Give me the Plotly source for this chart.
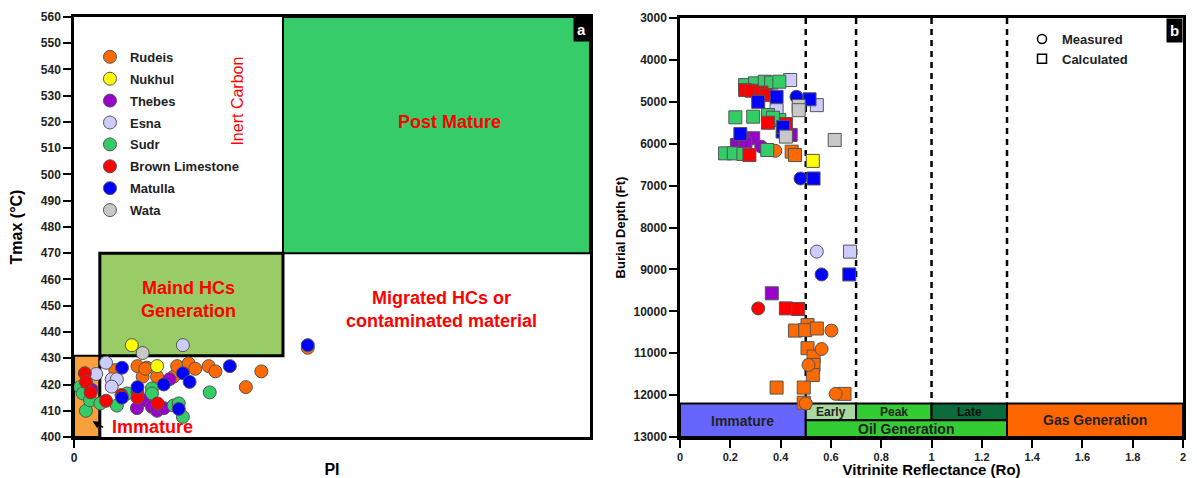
import plotly.graph_objects as go

# ---------------- Panel (a): PI vs Tmax ----------------
FORMATIONS = ["Rudeis", "Nukhul", "Thebes", "Esna", "Sudr", "Brown Limestone", "Matulla", "Wata"]

rudeis_pi = [0.080, 0.123, 0.141, 0.133, 0.161, 0.193, 0.200, 0.222, 0.235, 0.261, 0.274, 0.333, 0.363, 0.453, 0.138]
rudeis_tmax = [425.5, 427, 426.4, 423, 423, 423, 427, 428, 426, 427, 425, 419, 425, 434, 426]
nukhul_pi = [0.112, 0.161]
nukhul_tmax = [435, 427]
thebes_pi = [0.034, 0.122, 0.135, 0.151, 0.161, 0.174, 0.185]
thebes_tmax = [418, 411, 414, 411.5, 410, 411, 422]
esna_pi = [0.211, 0.062, 0.043, 0.073, 0.083, 0.073]
esna_tmax = [435, 428.3, 424, 422, 422, 419.2]
sudr_pi = [0.012, 0.017, 0.023, 0.031, 0.051, 0.083, 0.103, 0.151, 0.151, 0.193, 0.203, 0.211, 0.263]
sudr_tmax = [419, 416.6, 410, 414, 412.8, 412, 416.6, 418.5, 416.6, 412, 412.8, 407.7, 417]
brown_pi = [0.021, 0.023, 0.032, 0.062, 0.092, 0.123, 0.123, 0.162]
brown_tmax = [424.3, 421, 417, 413.8, 416, 417, 415, 412.8]
matulla_pi = [0.093, 0.302, 0.211, 0.224, 0.174, 0.123, 0.093, 0.203, 0.453]
matulla_tmax = [426.4, 427, 424.3, 421, 420, 419, 415, 410.7, 435]
wata_pi = [0.133]
wata_tmax = [432]

# ---------------- Panel (b): Ro vs depth ----------------
# Measured (circles)
rudeis_ro_m = [0.379, 0.602, 0.563, 0.511, 0.619, 0.500]
rudeis_d_m = [6170, 10460, 10900, 11280, 11970, 12200]
thebes_ro_m = [0.323]
thebes_d_m = [6070]
esna_ro_m = [0.544]
esna_d_m = [8575]
brown_ro_m = [0.311]
brown_d_m = [9930]
matulla_ro_m = [0.463, 0.479, 0.563]
matulla_d_m = [4880, 6830, 9120]

# Calculated (squares)
rudeis_ro_c = [0.444, 0.457, 0.507, 0.457, 0.498, 0.544, 0.507, 0.531, 0.531, 0.528, 0.384, 0.492, 0.654, 0.492]
rudeis_d_c = [6190, 6270, 10330, 10460, 10450, 10410, 10880, 11080, 11280, 11520, 11820, 11820, 11970, 12180]
nukhul_ro_c = [0.528]
nukhul_d_c = [6410]
thebes_ro_c = [0.440, 0.291, 0.252, 0.226, 0.260, 0.365]
thebes_d_c = [5790, 5870, 5910, 6030, 6000, 9570]
esna_ro_c = [0.438, 0.544, 0.384, 0.676]
esna_d_c = [4480, 5080, 5200, 8575]
sudr_ro_c = [0.259, 0.298, 0.337, 0.362, 0.395, 0.220, 0.291, 0.350, 0.395, 0.370, 0.179, 0.214, 0.252, 0.347]
sudr_d_c = [4600, 4560, 4520, 4540, 4520, 5370, 5355, 5315, 5435, 5380, 6230, 6230, 6245, 6150]
brown_ro_c = [0.259, 0.285, 0.324, 0.343, 0.350, 0.421, 0.276, 0.421, 0.470]
brown_d_c = [4720, 4735, 4780, 4840, 5500, 5530, 6270, 9930, 9945]
matulla_ro_c = [0.311, 0.384, 0.515, 0.408, 0.410, 0.240, 0.531, 0.673]
matulla_d_c = [5000, 4880, 4940, 5710, 5600, 5770, 6830, 9120]
wata_ro_c = [0.472, 0.472, 0.421, 0.615]
wata_d_c = [5100, 5200, 5830, 5910]

# Tick labels
ro_ticks = [0, 0.2, 0.4, 0.6, 0.8, 1, 1.2, 1.4, 1.6, 1.8, 2]
ro_ticklabels = ["0", "0.2", "0.4", "0.6", "0.8", "1", "1.2", "1.4", "1.6", "1.8", "2"]
depth_ticks = [3000, 4000, 5000, 6000, 7000, 8000, 9000, 10000, 11000, 12000, 13000]

COLORS = {
    "Rudeis": "#FF6A00", "Nukhul": "#FFFF00", "Thebes": "#9900CC", "Esna": "#CCCCFF",
    "Sudr": "#33CC66", "Brown Limestone": "#FF0000", "Matulla": "#0000FF", "Wata": "#C8C8C8",
}

LEFT = {
    "Rudeis": (rudeis_pi, rudeis_tmax), "Nukhul": (nukhul_pi, nukhul_tmax),
    "Thebes": (thebes_pi, thebes_tmax), "Esna": (esna_pi, esna_tmax),
    "Sudr": (sudr_pi, sudr_tmax), "Brown Limestone": (brown_pi, brown_tmax),
    "Matulla": (matulla_pi, matulla_tmax), "Wata": (wata_pi, wata_tmax),
}
MEAS = {
    "Rudeis": (rudeis_ro_m, rudeis_d_m), "Thebes": (thebes_ro_m, thebes_d_m),
    "Esna": (esna_ro_m, esna_d_m), "Brown Limestone": (brown_ro_m, brown_d_m),
    "Matulla": (matulla_ro_m, matulla_d_m),
}
CALC = {
    "Rudeis": (rudeis_ro_c, rudeis_d_c), "Nukhul": (nukhul_ro_c, nukhul_d_c),
    "Thebes": (thebes_ro_c, thebes_d_c), "Esna": (esna_ro_c, esna_d_c),
    "Sudr": (sudr_ro_c, sudr_d_c), "Brown Limestone": (brown_ro_c, brown_d_c),
    "Matulla": (matulla_ro_c, matulla_d_c), "Wata": (wata_ro_c, wata_d_c),
}

FONT = "Arial, Liberation Sans, sans-serif"
fig = go.Figure()

for name in FORMATIONS:
    x, y = LEFT[name]
    fig.add_trace(go.Scatter(
        x=x, y=y, mode="markers", name=name, legendgroup=name, legend="legend",
        marker=dict(symbol="circle", size=13, color=COLORS[name], line=dict(color="#555555", width=1)),
        cliponaxis=False, xaxis="x", yaxis="y"))

for name in FORMATIONS:
    if name in CALC:
        x, y = CALC[name]
        fig.add_trace(go.Scatter(
            x=x, y=y, mode="markers", name=name, legendgroup=name, showlegend=False,
            marker=dict(symbol="square", size=13, color=COLORS[name], line=dict(color="#555555", width=1)),
            cliponaxis=False, xaxis="x2", yaxis="y2"))
    if name in MEAS:
        x, y = MEAS[name]
        fig.add_trace(go.Scatter(
            x=x, y=y, mode="markers", name=name, legendgroup=name, showlegend=False,
            marker=dict(symbol="circle", size=13, color=COLORS[name], line=dict(color="#555555", width=1)),
            cliponaxis=False, xaxis="x2", yaxis="y2"))

# legend for panel b
fig.add_trace(go.Scatter(x=[None], y=[None], mode="markers", name="Measured", legend="legend2",
                         marker=dict(symbol="circle-open", size=9, color="black", line=dict(width=1.5)),
                         xaxis="x2", yaxis="y2"))
fig.add_trace(go.Scatter(x=[None], y=[None], mode="markers", name="Calculated", legend="legend2",
                         marker=dict(symbol="square-open", size=9, color="black", line=dict(width=1.5)),
                         xaxis="x2", yaxis="y2"))

shapes = []
# Panel a regions
shapes.append(dict(type="rect", xref="x", yref="y", x0=0.405, x1=1, y0=470, y1=560,
                   fillcolor="#36CC6A", line=dict(color="black", width=2), layer="below"))
shapes.append(dict(type="rect", xref="x", yref="y", x0=0.05, x1=0.405, y0=431, y1=470,
                   fillcolor="#99CC66", line=dict(color="black", width=3), layer="below"))
shapes.append(dict(type="rect", xref="x", yref="y", x0=0, x1=0.05, y0=400, y1=431,
                   fillcolor="#F7A03C", line=dict(color="black", width=2), layer="below"))
shapes.append(dict(type="line", xref="x", yref="y", x0=0.05, x1=0.05, y0=400, y1=431,
                   line=dict(color="black", width=3), layer="below"))

# Panel b bands
bands = [
    (0.0, 0.5, 12200, 13000, "#6666FF"),
    (0.5, 0.7, 12200, 12600, "#A6D8A0"),
    (0.7, 1.0, 12200, 12600, "#33CC33"),
    (1.0, 1.3, 12200, 12600, "#0B6B3A"),
    (0.5, 1.3, 12600, 13000, "#33CC33"),
    (1.3, 2.0, 12200, 13000, "#FF6600"),
]
for x0, x1, y0, y1, c in bands:
    shapes.append(dict(type="rect", xref="x2", yref="y2", x0=x0, x1=x1, y0=y0, y1=y1,
                       fillcolor=c, line=dict(color="black", width=2), layer="below"))
for xv in [0.5, 0.7, 1.0, 1.3]:
    shapes.append(dict(type="line", xref="x2", yref="y2", x0=xv, x1=xv, y0=3000, y1=12200,
                       line=dict(color="black", width=2.5, dash="6px,5px"), layer="below"))

red = "#FF0000"
ann = [
    dict(xref="x", yref="y", x=0.317, y=528, text="Inert Carbon", textangle=-90, showarrow=False,
         font=dict(family=FONT, size=16, color=red)),
    dict(xref="x", yref="y", x=0.728, y=520, text="<b>Post Mature</b>", showarrow=False,
         font=dict(family=FONT, size=18, color=red)),
    dict(xref="x", yref="y", x=0.222, y=452.5, text="<b>Maind HCs<br>Generation</b>", showarrow=False,
         font=dict(family=FONT, size=18, color=red)),
    dict(xref="x", yref="y", x=0.712, y=448.5, text="<b>Migrated HCs or<br>contaminated material</b>",
         showarrow=False, font=dict(family=FONT, size=18, color=red)),
    dict(xref="x", yref="y", x=0.152, y=404, text="<b>Immature</b>", showarrow=False,
         font=dict(family=FONT, size=18, color=red)),
    dict(xref="x", yref="y", x=0.036, y=406, ax=12, ay=7, text="", showarrow=True,
         arrowhead=2, arrowsize=1, arrowwidth=1.5, arrowcolor="black"),
    dict(xref="paper", yref="paper", x=0.4928, y=0.9809, xanchor="right", yanchor="top",
         text="<b>a</b>", showarrow=False, bgcolor="black", borderpad=3,
         font=dict(family=FONT, size=15, color="white")),
    dict(xref="paper", yref="paper", x=0.995, y=0.9787, xanchor="right", yanchor="top",
         text="<b>b</b>", showarrow=False, bgcolor="black", borderpad=3,
         font=dict(family=FONT, size=15, color="white")),
    # band labels
    dict(xref="x2", yref="y2", x=0.25, y=12620, text="<b>Immature</b>", showarrow=False,
         font=dict(family=FONT, size=14, color="#222222")),
    dict(xref="x2", yref="y2", x=0.6, y=12410, text="<b>Early</b>", showarrow=False,
         font=dict(family=FONT, size=12, color="#222222")),
    dict(xref="x2", yref="y2", x=0.85, y=12410, text="<b>Peak</b>", showarrow=False,
         font=dict(family=FONT, size=12, color="#222222")),
    dict(xref="x2", yref="y2", x=1.15, y=12410, text="<b>Late</b>", showarrow=False,
         font=dict(family=FONT, size=12, color="#111111")),
    dict(xref="x2", yref="y2", x=0.9, y=12810, text="<b>Oil Generation</b>", showarrow=False,
         font=dict(family=FONT, size=14, color="#222222")),
    dict(xref="x2", yref="y2", x=1.65, y=12600, text="<b>Gas Generation</b>", showarrow=False,
         font=dict(family=FONT, size=14, color="#222222")),
]

tickfont = dict(family=FONT, size=12, color="#222222", weight="bold")
axcommon = dict(showline=True, linecolor="black", linewidth=2.5, mirror=True, ticks="outside",
                ticklen=8, tickwidth=2, tickcolor="black", showgrid=False, zeroline=False,
                automargin=False)

# The page adds an 8px body margin, so the figure is sized to the visible area
fig.update_layout(
    width=1181, height=470, margin=dict(l=0, r=0, t=0, b=0),
    paper_bgcolor="white", plot_bgcolor="white",
    font=dict(family=FONT),
    xaxis=dict(domain=[0.0559, 0.4928], range=[0, 1], tickvals=[0], ticktext=["0"], anchor="y",
               tickfont=tickfont,
               title=dict(text="PI", font=dict(family=FONT, size=16, color="black", weight="bold"), standoff=7),
               **axcommon),
    yaxis=dict(domain=[0.0872, 0.9809], range=[400, 560], dtick=10, anchor="x", tickfont=tickfont,
               title=dict(text="Tmax (°C)", font=dict(family=FONT, size=16, color="black", weight="bold"),
                          standoff=16), **axcommon),
    xaxis2=dict(domain=[0.5690, 0.995], range=[0, 2], tickvals=ro_ticks, ticktext=ro_ticklabels, anchor="y2",
                tickfont=dict(family=FONT, size=11, color="#222222", weight="bold"),
                title=dict(text="Vitrinite Reflectance (Ro)",
                           font=dict(family=FONT, size=15, color="black", weight="bold"), standoff=3),
                **axcommon),
    yaxis2=dict(domain=[0.0872, 0.9787], range=[13000, 3000], tickvals=depth_ticks,
                ticktext=[str(v) for v in depth_ticks], anchor="x2", tickfont=tickfont,
                title=dict(text="Burial Depth (Ft)", font=dict(family=FONT, size=13, color="black", weight="bold"),
                           standoff=5), **axcommon),
    legend=dict(x=0.0694, y=0.928, xanchor="left", yanchor="top", bgcolor="rgba(0,0,0,0)",
                font=dict(family=FONT, size=13, color="#222222", weight="bold"),
                tracegroupgap=2, itemclick=False, itemdoubleclick=False),
    legend2=dict(x=0.8586, y=0.966, xanchor="left", yanchor="top", bgcolor="rgba(0,0,0,0)",
                 font=dict(family=FONT, size=13, color="#222222", weight="bold"),
                 itemclick=False, itemdoubleclick=False),
    shapes=shapes, annotations=ann, showlegend=True,
)

fig.write_html("out.html")
